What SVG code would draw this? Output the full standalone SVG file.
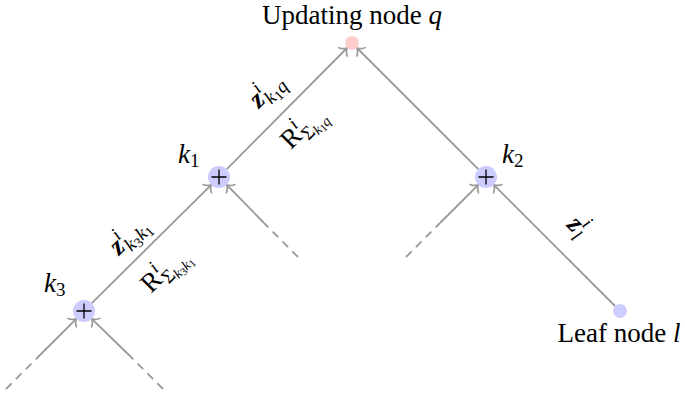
<svg xmlns="http://www.w3.org/2000/svg" width="685" height="398" viewBox="0 0 685 398">
<style>
text{font-family:"Liberation Serif","DejaVu Serif",serif;fill:#000;font-size:27px}
.it{font-style:italic}
.bz{font-weight:bold;font-style:italic}
.sup{font-size:19px;font-style:italic}
.sub{font-size:19px}
.ss{font-size:14px}
.sss{font-size:11px}
.edge{stroke:#999;stroke-width:1.8;fill:none}
.dash{stroke:#999;stroke-width:1.8;fill:none;stroke-dasharray:8 6}
.sum{fill:#ccccff}
.plus{stroke:#000;stroke-width:1.3}
</style>
<defs>
<marker id="arr" markerUnits="userSpaceOnUse" markerWidth="14" markerHeight="14" viewBox="-7 -7 14 14" refX="0" refY="0" orient="auto" overflow="visible">
<path d="M -5.5,-6 C -4.5,-3 -1.5,-0.8 0,0 C -1.5,0.8 -4.5,3 -5.5,6" stroke="#999" stroke-width="1.6" fill="none" stroke-linecap="round"/>
</marker>
</defs>
<g id="connectors">
<line class="edge" x1="226.8" y1="169.2" x2="347" y2="48" marker-end="url(#arr)"/>
<line class="edge" x1="478.2" y1="169.2" x2="357" y2="48" marker-end="url(#arr)"/>
<line class="edge" x1="615" y1="306" x2="493.8" y2="184.8" marker-end="url(#arr)"/>
<line class="edge" x1="91.8" y1="303.2" x2="211.2" y2="184.8" marker-end="url(#arr)"/>
<line class="dash" x1="298" y1="257" x2="264" y2="223"/>
<line class="edge" x1="264" y1="223" x2="226.8" y2="184.8" marker-end="url(#arr)"/>
<line class="dash" x1="406" y1="257" x2="440" y2="223"/>
<line class="edge" x1="440" y1="223" x2="478.2" y2="184.8" marker-end="url(#arr)"/>
<line class="dash" x1="6" y1="389" x2="38" y2="357"/>
<line class="edge" x1="38" y1="357" x2="76.2" y2="318.8" marker-end="url(#arr)"/>
<line class="dash" x1="163" y1="389" x2="130" y2="356"/>
<line class="edge" x1="130" y1="356" x2="91.8" y2="318.8" marker-end="url(#arr)"/>
<text transform="translate(272,96) rotate(-45)" text-anchor="middle"><tspan class="bz">z</tspan><tspan class="sup" dy="-11">i</tspan><tspan class="sub it" dx="-4" dy="17">k</tspan><tspan class="ss" dy="3">1</tspan><tspan class="sub it" dy="-3">q</tspan></text>
<text transform="translate(308,133) rotate(-45)" text-anchor="middle">R<tspan class="sup" dy="-11">i</tspan><tspan class="sub" dx="-4" dy="17">Σ</tspan><tspan class="ss it" dy="3">k</tspan><tspan class="sss" dy="2">1</tspan><tspan class="ss it" dy="-2">q</tspan></text>
<text transform="translate(134,241) rotate(-45)" text-anchor="middle"><tspan class="bz">z</tspan><tspan class="sup" dy="-11">i</tspan><tspan class="sub it" dx="-4" dy="17">k</tspan><tspan class="ss" dy="3">3</tspan><tspan class="sub it" dy="-3">k</tspan><tspan class="ss" dy="3">1</tspan></text>
<text transform="translate(170,275) rotate(-45)" text-anchor="middle">R<tspan class="sup" dy="-11">i</tspan><tspan class="sub" dx="-4" dy="17">Σ</tspan><tspan class="ss it" dy="3">k</tspan><tspan class="sss" dy="2">3</tspan><tspan class="ss it" dy="-2">k</tspan><tspan class="sss" dy="2">1</tspan></text>
<text transform="translate(572,232) rotate(45)" text-anchor="middle"><tspan class="bz">z</tspan><tspan class="sup" dy="-11">i</tspan><tspan class="sub it" dx="-4" dy="17">l</tspan></text>
</g>
<g id="node-q">
<circle cx="352" cy="43" r="7" fill="#ffcccc"/>
<text x="352" y="24" text-anchor="middle">Updating node <tspan class="it">q</tspan></text>
</g>
<g id="node-k1">
<circle class="sum" cx="219" cy="177" r="11"/>
<path class="plus" d="M211.5,177H226.5M219,169.5V184.5"/>
<text x="178" y="163" class="it">k<tspan class="sub" style="font-style:normal" dy="4">1</tspan></text>
</g>
<g id="node-k2">
<circle class="sum" cx="486" cy="177" r="11"/>
<path class="plus" d="M478.5,177H493.5M486,169.5V184.5"/>
<text x="502" y="163" class="it">k<tspan class="sub" style="font-style:normal" dy="4">2</tspan></text>
</g>
<g id="node-k3">
<circle class="sum" cx="84" cy="311" r="11"/>
<path class="plus" d="M76.5,311H91.5M84,303.5V318.5"/>
<text x="44" y="292" class="it">k<tspan class="sub" style="font-style:normal" dy="4">3</tspan></text>
</g>
<g id="node-leaf">
<circle class="sum" cx="620" cy="311" r="7"/>
<text x="619" y="342" text-anchor="middle">Leaf node <tspan class="it">l</tspan></text>
</g>
</svg>
